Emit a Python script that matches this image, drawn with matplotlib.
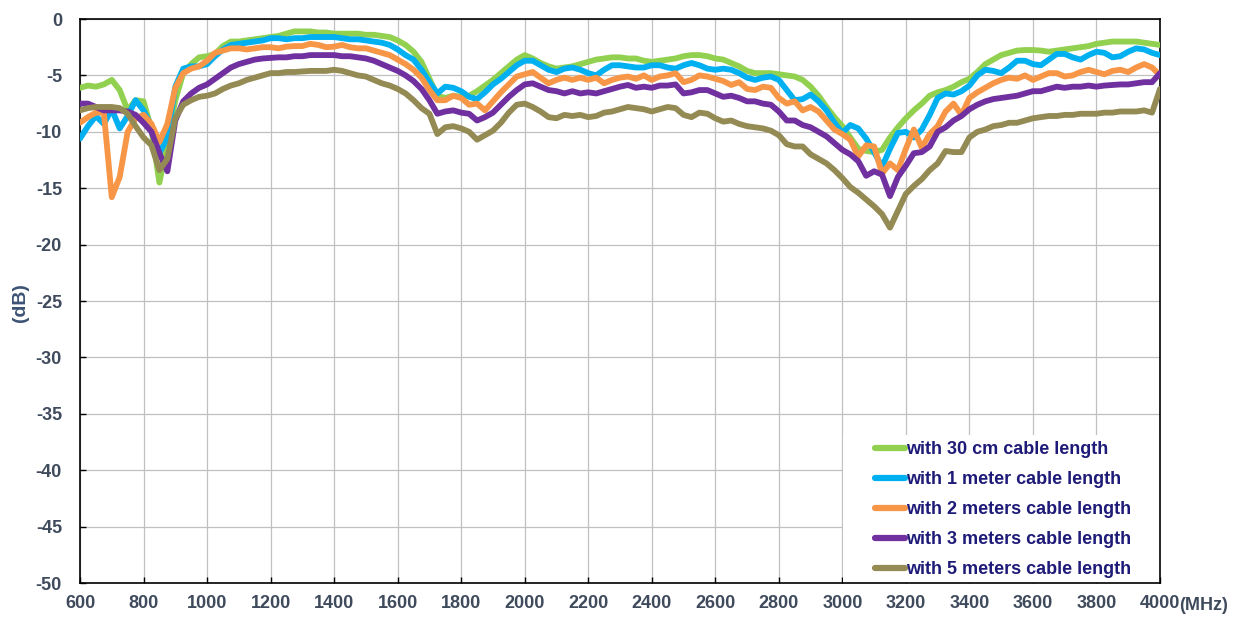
import numpy as np
import matplotlib.pyplot as plt
from matplotlib.patches import Rectangle

plt.rcParams['axes.unicode_minus'] = False

freq = list(range(600, 4001, 25))  # MHz

cm30 = [-6.1, -5.9, -6.0, -5.8, -5.4, -6.3, -8.1, -7.2,
        -7.3, -9.8, -14.5, -11.0, -7.2, -4.8, -4.0, -3.4,
        -3.3, -3.1, -2.4, -2.0, -2.0, -1.9, -1.8, -1.7,
        -1.6, -1.5, -1.3, -1.1, -1.1, -1.1, -1.2, -1.2,
        -1.3, -1.3, -1.3, -1.3, -1.4, -1.4, -1.5, -1.6,
        -1.9, -2.3, -2.9, -3.8, -5.3, -6.8, -7.0, -6.8,
        -6.9, -6.8, -6.4, -5.9, -5.4, -4.8, -4.2, -3.6,
        -3.2, -3.5, -3.9, -4.2, -4.4, -4.3, -4.2, -4.0,
        -3.8, -3.6, -3.5, -3.4, -3.4, -3.5, -3.5, -3.7,
        -3.8, -3.7, -3.6, -3.5, -3.3, -3.2, -3.2, -3.3,
        -3.5, -3.6, -3.9, -4.2, -4.6, -4.8, -4.8, -4.8,
        -4.9, -5.0, -5.1, -5.4, -6.0, -6.8, -7.8, -8.7,
        -9.5, -10.5, -11.5, -11.7, -11.8, -11.6, -10.5, -9.6,
        -8.8, -8.1, -7.5, -6.8, -6.5, -6.3, -6.0, -5.6,
        -5.3, -4.7, -4.0, -3.6, -3.2, -3.0, -2.8, -2.75,
        -2.75, -2.8, -2.9, -2.8, -2.7, -2.6, -2.5, -2.4,
        -2.2, -2.1, -2.0, -2.0, -2.0, -2.0, -2.1, -2.2,
        -2.3]

m1 = [-10.6, -9.5, -8.6, -9.3, -8.0, -9.7, -8.6, -7.2,
      -8.1, -9.5, -11.9, -10.5, -6.0, -4.4, -4.2, -4.2,
      -4.0, -3.3, -2.7, -2.3, -2.2, -2.1, -2.0, -1.9,
      -1.7, -1.7, -1.8, -1.7, -1.7, -1.6, -1.6, -1.6,
      -1.6, -1.7, -1.8, -1.8, -1.9, -2.0, -2.1, -2.3,
      -2.7, -3.2, -3.6, -4.5, -5.6, -6.6, -6.0, -6.1,
      -6.4, -6.9, -7.1, -6.5, -5.8, -5.3, -4.7, -4.1,
      -3.7, -3.7, -4.1, -4.5, -4.7, -4.4, -4.3, -4.5,
      -4.8, -5.0, -4.5, -4.1, -4.1, -4.2, -4.3, -4.3,
      -4.1, -4.1, -4.3, -4.4, -4.1, -3.9, -4.1, -4.4,
      -4.5, -4.4, -4.5, -4.8, -5.2, -5.4, -5.2, -5.1,
      -5.4, -6.3, -7.2, -7.1, -6.7, -7.3, -8.1, -9.2,
      -10.1, -9.4, -9.7, -10.6, -11.8, -13.1, -11.5, -10.1,
      -10.0, -10.5, -9.8, -8.5, -7.0, -6.6, -6.7, -6.4,
      -5.9, -5.0, -4.5, -4.6, -4.8, -4.3, -3.7, -3.7,
      -4.0, -4.1, -3.6, -3.1, -3.1, -3.4, -3.6, -3.2,
      -2.9, -3.0, -3.4, -3.3, -2.9, -2.6, -2.7, -3.0,
      -3.2]

m2 = [-9.2, -8.7, -8.3, -8.3, -15.8, -14.0, -10.0, -8.8,
      -8.5, -9.3, -10.9, -9.3, -6.1, -4.8, -4.4, -4.2,
      -3.7, -3.0, -2.8, -2.6, -2.6, -2.7, -2.6, -2.5,
      -2.5, -2.6, -2.45, -2.4, -2.4, -2.2, -2.3, -2.5,
      -2.45, -2.3, -2.5, -2.6, -2.6, -2.8, -3.0, -3.2,
      -3.6, -4.0, -4.5, -5.2, -6.3, -7.2, -7.2, -6.8,
      -7.0, -7.6, -7.5, -8.1, -7.3, -6.5, -5.8, -5.1,
      -4.9, -4.7, -5.2, -5.7, -5.4, -5.2, -5.4, -5.2,
      -5.4, -5.2, -5.7, -5.4, -5.2, -5.1, -5.3, -5.0,
      -5.4, -5.1, -5.0, -4.8, -5.6, -5.4, -5.0, -5.1,
      -5.3, -5.5, -5.85, -5.6, -6.2, -6.3, -6.0, -6.1,
      -7.0, -7.5, -7.3, -8.1, -7.8, -8.2, -9.0, -9.8,
      -10.2, -10.7, -12.2, -11.2, -11.3, -13.7, -12.8, -13.4,
      -11.5, -9.8, -11.4, -10.2, -9.5, -8.2, -7.5, -8.5,
      -7.0, -6.5, -6.1, -5.7, -5.4, -5.2, -5.3, -5.0,
      -5.4, -5.1, -4.8, -4.8, -5.1, -5.0, -4.7, -4.5,
      -4.7, -4.9, -4.6, -4.5, -4.7, -4.3, -4.0, -4.3,
      -5.0]

m3 = [-7.5, -7.5, -7.8, -8.1, -8.1, -8.1, -8.2, -8.5,
      -9.2, -10.0, -11.9, -13.5, -9.0, -7.3, -6.6, -6.1,
      -5.8, -5.3, -4.8, -4.3, -4.0, -3.8, -3.6, -3.5,
      -3.45, -3.4, -3.4, -3.3, -3.3, -3.2, -3.2, -3.2,
      -3.2, -3.3, -3.3, -3.4, -3.5, -3.7, -4.0, -4.3,
      -4.6, -5.0, -5.5, -6.2, -7.2, -8.4, -8.2, -8.1,
      -8.3, -8.4, -9.0, -8.7, -8.3, -7.6, -6.9, -6.3,
      -5.8, -5.7, -6.0, -6.3, -6.4, -6.6, -6.4, -6.6,
      -6.5, -6.6, -6.4, -6.2, -6.0, -5.85, -6.1, -6.0,
      -6.1, -5.9, -5.9, -5.8, -6.6, -6.5, -6.3, -6.3,
      -6.6, -6.9, -6.8, -7.0, -7.3, -7.3, -7.5, -7.6,
      -8.2, -9.0, -9.0, -9.4, -9.6, -10.0, -10.4, -11.0,
      -11.6, -12.0, -12.6, -13.9, -13.5, -13.8, -15.7, -14.0,
      -13.0, -11.9, -11.8, -11.3, -10.0, -9.6, -9.0, -8.6,
      -8.0, -7.6, -7.3, -7.1, -7.0, -6.9, -6.8, -6.6,
      -6.4, -6.4, -6.2, -6.0, -6.1, -6.0, -6.0, -5.9,
      -6.0, -5.9, -5.85, -5.8, -5.8, -5.7, -5.6, -5.6,
      -4.8]

m5 = [-8.1, -7.9, -7.8, -7.8, -7.8, -7.9, -8.4, -9.5,
      -10.5, -11.2, -13.4, -12.4, -8.8, -7.6, -7.2, -6.9,
      -6.8, -6.6, -6.2, -5.9, -5.7, -5.4, -5.2, -5.0,
      -4.8, -4.8, -4.7, -4.7, -4.65, -4.6, -4.6, -4.6,
      -4.5, -4.6, -4.8, -5.0, -5.1, -5.4, -5.7, -5.9,
      -6.2, -6.6, -7.2, -7.9, -8.4, -10.2, -9.6, -9.5,
      -9.7, -10.0, -10.7, -10.3, -9.9, -9.2, -8.3, -7.6,
      -7.5, -7.8, -8.2, -8.7, -8.8, -8.5, -8.6, -8.5,
      -8.7, -8.6, -8.3, -8.2, -8.0, -7.8, -7.9, -8.0,
      -8.2, -8.0, -7.8, -7.9, -8.5, -8.7, -8.3, -8.4,
      -8.8, -9.1, -9.0, -9.3, -9.5, -9.6, -9.7, -9.9,
      -10.3, -11.1, -11.3, -11.3, -12.0, -12.4, -12.8, -13.4,
      -14.1, -14.9, -15.4, -16.0, -16.6, -17.3, -18.5, -17.0,
      -15.5, -14.8, -14.2, -13.4, -12.8, -11.7, -11.8, -11.8,
      -10.5, -10.0, -9.8, -9.5, -9.4, -9.2, -9.2, -9.0,
      -8.8, -8.7, -8.6, -8.6, -8.5, -8.5, -8.4, -8.4,
      -8.4, -8.3, -8.3, -8.2, -8.2, -8.2, -8.1, -8.3,
      -6.2]

labels = ['with 30 cm cable length', 'with 1 meter cable length',
          'with 2 meters cable length', 'with 3 meters cable length',
          'with 5 meters cable length']
colors = ['#92d050', '#00b0f0', '#f79646', '#7030a0', '#948a54']

fnt = ['Liberation Sans', 'DejaVu Sans']
tick_col = '#3f4b5c'

fig = plt.figure(figsize=(12.44, 6.21), dpi=100)
ax = fig.add_axes([80/1244, 1 - 583/621, 1080/1244, 564/621])

for ys, c, lab in zip([cm30, m1, m2, m3, m5], colors, labels):
    ax.plot(freq, ys, color=c, linewidth=4.2, label=lab, zorder=3,
            solid_capstyle='round', solid_joinstyle='round')

ax.set_xlim(600, 4000)
ax.set_ylim(-50, 0)
ax.set_xticks(np.arange(600, 4001, 200))
ax.set_yticks(np.arange(-50, 1, 5))
ax.grid(True, color='#c0c0c0', linewidth=0.9)
ax.set_axisbelow(True)
for s in ax.spines.values():
    s.set_color('black')
    s.set_linewidth(1.2)
ax.tick_params(direction='in', length=4, width=1, color='black',
               labelcolor=tick_col, labelsize=13)
ax.tick_params(axis='y', pad=13)
ax.tick_params(axis='x', pad=9)
for t in ax.get_xticklabels() + ax.get_yticklabels():
    t.set_family(fnt)
    t.set_fontweight('bold')

# white box behind the legend hides the grid there
ax.add_patch(Rectangle((763/1080, 0), 1 - 763/1080, 148/564, transform=ax.transAxes,
                       facecolor='white', edgecolor='none', zorder=2))
leg = ax.legend(loc='upper left', bbox_to_anchor=(795/1080, 142/564), frameon=False,
                borderpad=0, borderaxespad=0, handlelength=1.65, handletextpad=0.05,
                labelspacing=0.72, prop={'family': fnt, 'weight': 'bold', 'size': 13})
leg.set_zorder(4)
for t in leg.get_texts():
    t.set_color('#1e1a78')
for h in leg.get_lines():
    h.set_linewidth(4.5)

fig.text(1179/1244, 1 - 605/621, '(MHz)', ha='left', va='center', fontsize=13,
         family=fnt, fontweight='bold', color=tick_col)
fig.text(20/1244, 1 - 303/621, '(dB)', rotation=90, ha='center', va='center',
         fontsize=14, family=fnt, fontweight='bold', color='#3b5274')

fig.savefig('out.png', dpi=100)
